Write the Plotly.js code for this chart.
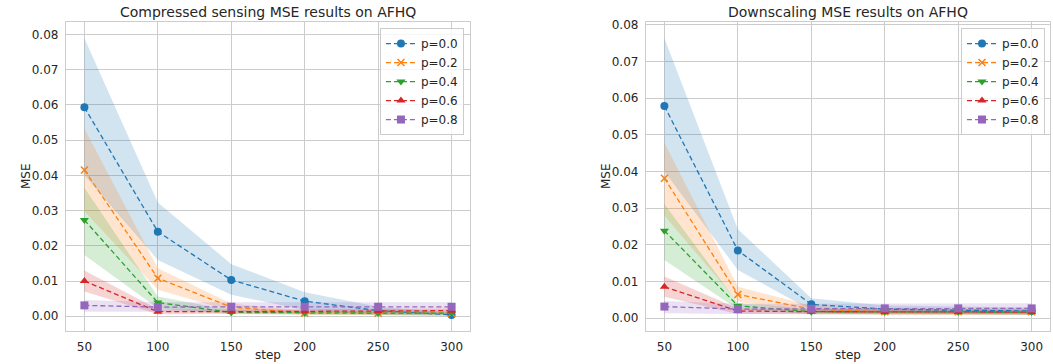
<!DOCTYPE html>
<html><head><meta charset="utf-8">
<script src="https://cdn.plot.ly/plotly-3.0.1.min.js"></script>
<style>html,body{margin:0;padding:0;background:#fff}#chart{width:1053px;height:364px}</style>
</head><body><div id="chart"></div>
<script>
const steps = [50, 100, 150, 200, 250, 300];
const labels = ["p=0.0", "p=0.2", "p=0.4", "p=0.6", "p=0.8"];
const colors = ["#1f77b4", "#ff7f0e", "#2ca02c", "#d62728", "#9467bd"];
const fills = ["rgba(31,119,180,0.2)", "rgba(255,127,14,0.2)", "rgba(44,160,44,0.2)", "rgba(214,39,40,0.2)", "rgba(148,103,189,0.2)"];
const symbols = ["circle", "x-thin-open", "triangle-down", "triangle-up", "square"];

// Compressed sensing (left)
const csMean = [
  [0.0593, 0.0240, 0.0103, 0.0043, 0.0016, 0.0004],
  [0.0415, 0.0108, 0.0026, 0.0009, 0.0009, 0.0008],
  [0.0273, 0.0039, 0.0011, 0.0009, 0.0009, 0.0009],
  [0.0100, 0.0013, 0.0013, 0.0014, 0.0015, 0.0016],
  [0.0031, 0.0026, 0.0027, 0.0027, 0.0027, 0.0027]
];
const csUpper = [
  [0.0789, 0.0323, 0.0148, 0.0068, 0.0027, 0.0010],
  [0.0533, 0.0136, 0.0036, 0.0015, 0.0015, 0.0014],
  [0.0365, 0.0056, 0.0017, 0.0014, 0.0014, 0.0014],
  [0.0130, 0.0020, 0.0019, 0.0020, 0.0021, 0.0022],
  [0.0046, 0.0040, 0.0040, 0.0040, 0.0040, 0.0040]
];
const csLower = [
  [0.0400, 0.0160, 0.0061, 0.0018, 0.0004, 0.0000],
  [0.0298, 0.0075, 0.0015, 0.0004, 0.0004, 0.0003],
  [0.0174, 0.0023, 0.0006, 0.0004, 0.0004, 0.0004],
  [0.0070, 0.0006, 0.0007, 0.0008, 0.0009, 0.0010],
  [0.0013, 0.0013, 0.0014, 0.0014, 0.0014, 0.0014]
];

// Downscaling (right)
const dsMean = [
  [0.0579, 0.0185, 0.0038, 0.0025, 0.0022, 0.0020],
  [0.0382, 0.0065, 0.0025, 0.0018, 0.0018, 0.0018],
  [0.0239, 0.0034, 0.0018, 0.0017, 0.0017, 0.0017],
  [0.0086, 0.0020, 0.0018, 0.0017, 0.0017, 0.0017],
  [0.0032, 0.0025, 0.0026, 0.0027, 0.0027, 0.0027]
];
const dsUpper = [
  [0.0764, 0.0243, 0.0055, 0.0035, 0.0032, 0.0030],
  [0.0479, 0.0086, 0.0034, 0.0026, 0.0026, 0.0026],
  [0.0312, 0.0042, 0.0025, 0.0024, 0.0024, 0.0024],
  [0.0114, 0.0027, 0.0025, 0.0024, 0.0024, 0.0024],
  [0.0047, 0.0040, 0.0040, 0.0041, 0.0041, 0.0041]
];
const dsLower = [
  [0.0400, 0.0132, 0.0022, 0.0015, 0.0012, 0.0010],
  [0.0280, 0.0045, 0.0016, 0.0010, 0.0010, 0.0010],
  [0.0159, 0.0025, 0.0011, 0.0010, 0.0010, 0.0010],
  [0.0059, 0.0012, 0.0011, 0.0010, 0.0010, 0.0010],
  [0.0014, 0.0012, 0.0013, 0.0014, 0.0014, 0.0014]
];

const traces = [];
function addPanel(mean, upper, lower, xa, ya, leg) {
  for (let i = 0; i < labels.length; i++) {
    traces.push({x: steps, y: upper[i], xaxis: xa, yaxis: ya, mode: 'lines', line: {width: 0, color: fills[i]}, showlegend: false, hoverinfo: 'skip'});
    traces.push({x: steps, y: lower[i], xaxis: xa, yaxis: ya, mode: 'lines', line: {width: 0, color: fills[i]}, fill: 'tonexty', fillcolor: fills[i], showlegend: false, hoverinfo: 'skip'});
  }
  for (let i = 0; i < labels.length; i++) {
    traces.push({x: steps, y: mean[i], xaxis: xa, yaxis: ya, name: labels[i], legend: leg,
      mode: 'lines+markers', line: {color: colors[i], width: 1.3, dash: '5px,3px'},
      marker: {symbol: symbols[i], size: i === 1 ? 7 : 8, color: colors[i], line: {color: colors[i], width: i === 1 ? 1.5 : 0}}});
  }
}
addPanel(csMean, csUpper, csLower, 'x', 'y', 'legend');
addPanel(dsMean, dsUpper, dsLower, 'x2', 'y2', 'legend2');

const font = {family: 'DejaVu Sans, sans-serif', size: 12, color: '#262626'};
function xax(dom) {
  return {domain: dom, range: [37.5, 312.5], tickvals: [50, 100, 150, 200, 250, 300], showgrid: true, gridcolor: '#cccccc', gridwidth: 1,
    showline: true, linecolor: '#cccccc', linewidth: 1.2, mirror: true, zeroline: false, ticks: '', tickfont: font, ticklabelstandoff: 4};
}
function yax(dom, rng, anchor) {
  return {domain: dom, range: rng, anchor: anchor, dtick: 0.01, tick0: 0, tickformat: '.2f', showgrid: true, gridcolor: '#cccccc', gridwidth: 1,
    showline: true, linecolor: '#cccccc', linewidth: 1.2, mirror: true, zeroline: false, ticks: '', tickfont: font, ticklabelstandoff: 4};
}
const ydom = [0.0907, 0.9396];
const legStyle = {bgcolor: 'rgba(255,255,255,0.8)', bordercolor: '#cccccc', borderwidth: 1, font: font, xanchor: 'right', yanchor: 'top', itemwidth: 30, tracegroupgap: 0, traceorder: 'normal'};
const layout = {
  width: 1053, height: 364, margin: {l: 0, r: 0, t: 0, b: 0},
  paper_bgcolor: '#ffffff', plot_bgcolor: '#ffffff', font: font,
  xaxis: Object.assign(xax([0.0627, 0.4463]), {anchor: 'y'}),
  yaxis: yax(ydom, [-0.00417, 0.0835], 'x'),
  xaxis2: Object.assign(xax([0.6135, 0.9972]), {anchor: 'y2'}),
  yaxis2: yax(ydom, [-0.00346, 0.0808], 'x2'),
  legend: Object.assign({x: 0.4406, y: 0.923}, legStyle),
  legend2: Object.assign({x: 0.9924, y: 0.923}, legStyle),
  annotations: [
    {text: 'Compressed sensing MSE results on AFHQ', xref: 'paper', yref: 'paper', x: 0.2545, y: 1 - 12/364, xanchor: 'center', yanchor: 'middle', showarrow: false, font: {family: 'DejaVu Sans, sans-serif', size: 14, color: '#262626'}},
    {text: 'Downscaling MSE results on AFHQ', xref: 'paper', yref: 'paper', x: 0.8053, y: 1 - 12/364, xanchor: 'center', yanchor: 'middle', showarrow: false, font: {family: 'DejaVu Sans, sans-serif', size: 14, color: '#262626'}},
    {text: 'step', xref: 'paper', yref: 'paper', x: 0.2545, y: 1 - 355/364, xanchor: 'center', yanchor: 'middle', showarrow: false, font: font},
    {text: 'step', xref: 'paper', yref: 'paper', x: 0.8053, y: 1 - 355/364, xanchor: 'center', yanchor: 'middle', showarrow: false, font: font},
    {text: 'MSE', xref: 'paper', yref: 'paper', x: 26/1053, y: 1 - 176/364, xanchor: 'center', yanchor: 'middle', textangle: -90, showarrow: false, font: font},
    {text: 'MSE', xref: 'paper', yref: 'paper', x: 606/1053, y: 1 - 176/364, xanchor: 'center', yanchor: 'middle', textangle: -90, showarrow: false, font: font}
  ]
};
Plotly.newPlot('chart', traces, layout, {displayModeBar: false, staticPlot: true});
</script></body></html>
